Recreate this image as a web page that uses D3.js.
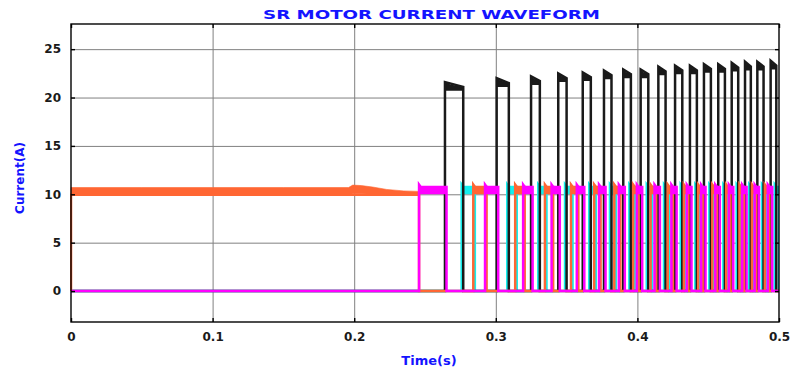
<!DOCTYPE html>
<html>
<head>
<meta charset="utf-8">
<script src="https://cdn.jsdelivr.net/npm/d3@7"></script>
<style>
  html, body { margin: 0; background: #fff; }
  svg { display: block; }
  .axis text { font-family: "DejaVu Sans", sans-serif; font-weight: bold; font-size: 12px; fill: #1a1a1a; }
  .axis path { display: none; }
  .axis line { stroke: #000; stroke-width: 1.4; }
  .grid line { stroke: #808080; stroke-width: 1; }
  .grid path { display: none; }
  .blue-label { font-family: "DejaVu Sans", sans-serif; font-weight: bold; fill: #1414ff; }
</style>
</head>
<body>
<div id="chart"></div>
<script>
// ---- data ----
const xTicks = [0, 0.1, 0.2, 0.3, 0.4, 0.5];
const yTicks = [0, 5, 10, 15, 20, 25];

// orange phase conducting alone before commutation starts (chopping band)
const bandTime  = [0, 0.05, 0.10, 0.15, 0.196, 0.199, 0.205, 0.213, 0.223, 0.235, 0.2458];
const bandUpper = [10.7, 10.7, 10.7, 10.7, 10.7, 10.95, 10.9, 10.75, 10.5, 10.35, 10.3];
const bandLower = [9.95, 9.95, 9.95, 9.95, 9.95, 10.05, 10.05, 10.0, 9.95, 9.95, 9.95];

// switch-on instants of each phase (s)
const magentaOn = [0.2458, 0.2924, 0.3193, 0.3394, 0.3572, 0.3729, 0.3869, 0.3996, 0.4121,
  0.4240, 0.4349, 0.4450, 0.4550, 0.4646, 0.4740, 0.4828, 0.4921];
const blackOn = [0.2641, 0.3006, 0.3249, 0.3441, 0.3614, 0.3764, 0.3900, 0.4023, 0.4148,
  0.4266, 0.4371, 0.4470, 0.4571, 0.4666, 0.4760, 0.4847, 0.4941];
const cyanOn = [0.2759, 0.3081, 0.3300, 0.3489, 0.3660, 0.3806, 0.3943, 0.4066, 0.4188,
  0.4306, 0.4409, 0.4508, 0.4607, 0.4701, 0.4790, 0.4880, 0.4970];
const orangeOn = [0.2841, 0.3137, 0.3347, 0.3531, 0.3695, 0.3837, 0.3970, 0.4093, 0.4214,
  0.4328, 0.4429, 0.4529, 0.4627, 0.4721, 0.4809, 0.4900];

// black phase peaks (A)
const blackPeak = [21.6, 22.0, 22.2, 22.5, 22.6, 22.8, 22.9, 22.9, 23.2, 23.3, 23.3, 23.45,
  23.45, 23.6, 23.7, 23.7, 23.8];

// levels of the ~10 A pulses
const lowPeak = 11.0;
const lowHi = 10.75;
const lowLo = 10.0;

// ---- layout ----
const W = 794, H = 374;
const margin = { top: 24, right: 15, bottom: 52, left: 71 };
const width = W - margin.left - margin.right;   // 708
const height = H - margin.top - margin.bottom;  // 298

const x = d3.scaleLinear().domain([0, 0.5]).range([0, width]);
const y = d3.scaleLinear().domain([-3.2, 27.6]).range([height, 0]);

const svg = d3.select('#chart').append('svg')
  .attr('width', W)
  .attr('height', H);

const g = svg.append('g').attr('transform', `translate(${margin.left},${margin.top})`);

g.append('defs').append('clipPath').attr('id', 'plot-clip')
  .append('rect').attr('x', -1).attr('y', 0).attr('width', width + 1).attr('height', height);

// grid
g.append('g').attr('class', 'grid')
  .attr('transform', `translate(0,${height})`)
  .call(d3.axisBottom(x).tickValues(xTicks.slice(1, -1)).tickSize(-height).tickFormat(() => ''));
g.append('g').attr('class', 'grid')
  .call(d3.axisLeft(y).tickValues(yTicks).tickSize(-width).tickFormat(() => ''));

// traces
const phases = [
  { color: '#14eeee', on: cyanOn },
  { color: '#1a1a1a', on: blackOn, peaks: blackPeak },
  { color: '#ff6633', on: orangeOn, start: true },
  { color: '#ff00ff', on: magentaOn }
];
const allOn = phases.flatMap(p => p.on).sort(d3.ascending);
const tEnd = x.domain()[1];
const pulseEnd = t => {
  const i = d3.bisectRight(allOn, t);
  return i < allOn.length ? allOn[i] : tEnd;
};

const line = d3.line().x(d => x(d[0])).y(d => y(d[1]));
const dt = 0.0012;    // overshoot settling
const tail = 0.0011;  // current tail after the next phase switches on

const traces = g.append('g').attr('clip-path', 'url(#plot-clip)');

phases.forEach(p => {
  const layer = traces.append('g');
  const pts = [[0, 0]];

  if (p.start) {
    const last = bandTime.length - 1;
    layer.append('path')
      .attr('d', d3.area()
        .x((d, i) => x(bandTime[i]))
        .y0((d, i) => y(bandLower[i]))
        .y1((d, i) => y(bandUpper[i]))(bandTime))
      .attr('fill', p.color)
      .attr('stroke', p.color)
      .attr('stroke-width', 0.6);
    pts.push([0, bandLower[0]], [bandTime[last], bandLower[last]], [bandTime[last], 0]);
  }

  const bands = [];
  p.on.forEach((t0, i) => {
    const t1 = Math.min(pulseEnd(t0) + tail, tEnd);
    if (p.peaks) {
      const pk = p.peaks[i];
      pts.push([t0, 0], [t0, pk], [t1, pk - 0.5], [t1, 0]);
      bands.push([[t0, pk], [t0 + 0.3 * (t1 - t0), pk - 0.25], [t1, pk - 0.5], [t1, pk - 0.9], [t0, pk - 0.9]]);
    } else {
      pts.push([t0, 0], [t0, lowPeak], [t0 + dt, lowHi], [t1, lowHi], [t1, 0]);
      bands.push([[t0, lowPeak], [t0 + dt, lowHi], [t1, lowHi], [t1, lowLo], [t0, lowLo]]);
    }
  });
  pts.push([tEnd, 0]);

  layer.selectAll('.band').data(bands).join('path')
    .attr('class', 'band')
    .attr('d', d => line(d) + 'Z')
    .attr('fill', p.color);

  layer.append('path')
    .attr('d', line(pts))
    .attr('fill', 'none')
    .attr('stroke', p.color)
    .attr('stroke-width', 2.5)
    .attr('stroke-linejoin', 'miter');
});

// frame
g.append('rect')
  .attr('width', width)
  .attr('height', height)
  .attr('fill', 'none')
  .attr('stroke', '#000')
  .attr('stroke-width', 1.4);

// axes with inward ticks on all sides
g.append('g').attr('class', 'axis x-axis')
  .attr('transform', `translate(0,${height})`)
  .call(d3.axisBottom(x).tickValues(xTicks).tickSize(-4).tickPadding(10).tickFormat(d3.format('')));
g.append('g').attr('class', 'axis')
  .call(d3.axisTop(x).tickValues(xTicks).tickSize(-4).tickFormat(() => ''));
g.append('g').attr('class', 'axis y-axis')
  .call(d3.axisLeft(y).tickValues(yTicks).tickSize(-4).tickPadding(10));
g.append('g').attr('class', 'axis')
  .attr('transform', `translate(${width},0)`)
  .call(d3.axisRight(y).tickValues(yTicks).tickSize(-4).tickFormat(() => ''));

// labels
svg.append('text')
  .attr('class', 'blue-label')
  .attr('x', 263)
  .attr('y', 19)
  .attr('font-size', 13)
  .attr('textLength', 337)
  .attr('lengthAdjust', 'spacingAndGlyphs')
  .text('SR MOTOR CURRENT WAVEFORM');

svg.append('text')
  .attr('class', 'blue-label')
  .attr('transform', 'translate(24,178) rotate(-90)')
  .attr('text-anchor', 'middle')
  .attr('font-size', 12)
  .text('Current(A)');

svg.append('text')
  .attr('class', 'blue-label')
  .attr('x', 429)
  .attr('y', 365)
  .attr('text-anchor', 'middle')
  .attr('font-size', 13)
  .text('Time(s)');
</script>
</body>
</html>
